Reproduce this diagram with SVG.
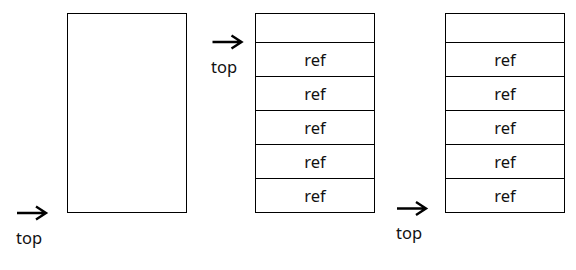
<svg xmlns="http://www.w3.org/2000/svg" width="576" height="270" viewBox="0 0 576 270">
<style>
.box{fill:#fff;stroke:#000;stroke-width:1}
.ar{fill:none;stroke:#000;stroke-width:2.4;stroke-linejoin:miter}
.t{font-family:"Noto Sans","Open Sans",sans-serif;font-size:16.5px;fill:#111}
.lbl{text-anchor:middle}
</style>
<rect width="576" height="270" fill="#fff"/>
<g id="heap">
<rect class="box" x="67.5" y="13.5" width="119" height="199"/>
</g>
<g id="stack1">
<rect class="box" x="255.5" y="13.5" width="119" height="199"/>
<line class="box" x1="255.5" y1="42.5" x2="374.5" y2="42.5"/>
<line class="box" x1="255.5" y1="76.5" x2="374.5" y2="76.5"/>
<line class="box" x1="255.5" y1="110.5" x2="374.5" y2="110.5"/>
<line class="box" x1="255.5" y1="144.5" x2="374.5" y2="144.5"/>
<line class="box" x1="255.5" y1="178.5" x2="374.5" y2="178.5"/>
<text class="t lbl" x="315" y="66">ref</text>
<text class="t lbl" x="315" y="100">ref</text>
<text class="t lbl" x="315" y="134">ref</text>
<text class="t lbl" x="315" y="168">ref</text>
<text class="t lbl" x="315" y="202">ref</text>
</g>
<g id="stack2">
<rect class="box" x="445.5" y="13.5" width="119" height="199"/>
<line class="box" x1="445.5" y1="42.5" x2="564.5" y2="42.5"/>
<line class="box" x1="445.5" y1="76.5" x2="564.5" y2="76.5"/>
<line class="box" x1="445.5" y1="110.5" x2="564.5" y2="110.5"/>
<line class="box" x1="445.5" y1="144.5" x2="564.5" y2="144.5"/>
<line class="box" x1="445.5" y1="178.5" x2="564.5" y2="178.5"/>
<text class="t lbl" x="505" y="66">ref</text>
<text class="t lbl" x="505" y="100">ref</text>
<text class="t lbl" x="505" y="134">ref</text>
<text class="t lbl" x="505" y="168">ref</text>
<text class="t lbl" x="505" y="202">ref</text>
</g>
<g id="connectors">
<path class="ar" d="M17 213H45.5M36 206.5L46 213L36 219.5"/>
<path class="ar" d="M212.5 42H241M231.5 35.5L241.5 42L231.5 48.5"/>
<path class="ar" d="M397 208.5H425.5M416 202L426 208.5L416 215"/>
</g>
<g id="labels">
<text class="t" x="16" y="244">top</text>
<text class="t" x="211" y="73">top</text>
<text class="t" x="396" y="239">top</text>
</g>
</svg>
